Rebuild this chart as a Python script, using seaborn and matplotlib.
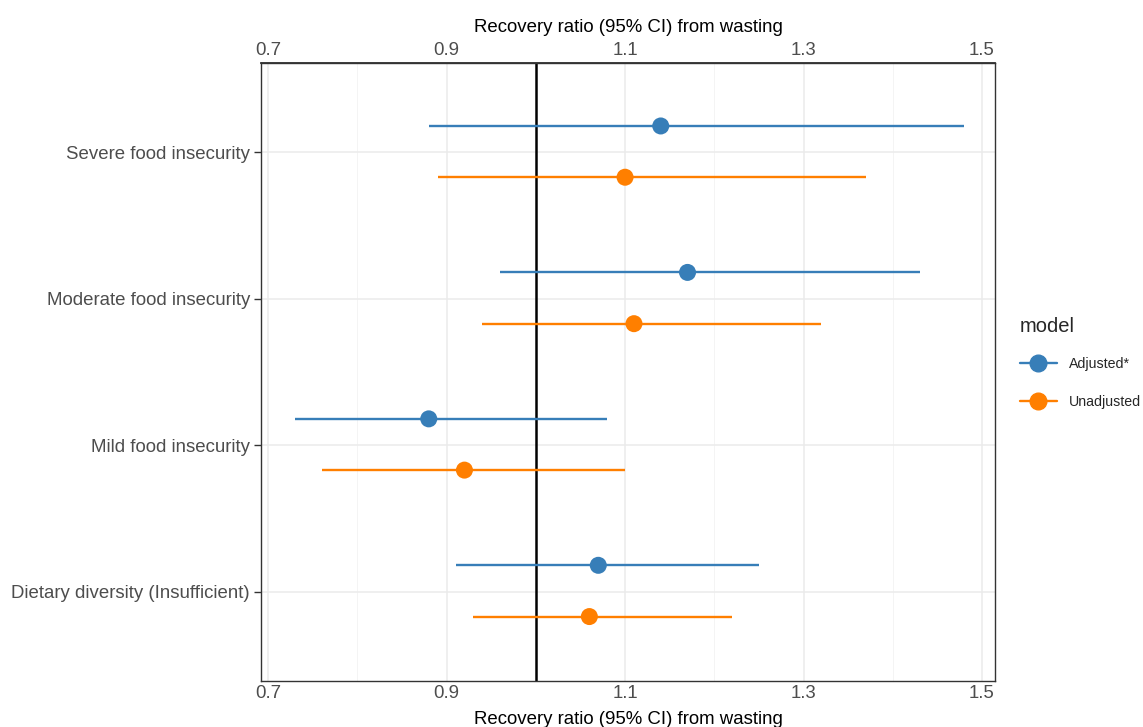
import numpy as np
import pandas as pd
import matplotlib
matplotlib.use("Agg")
import matplotlib.pyplot as plt
from matplotlib.lines import Line2D
import seaborn as sns

categories = ["Severe food insecurity", "Moderate food insecurity",
              "Mild food insecurity", "Dietary diversity (Insufficient)"]
models = ["Adjusted*", "Unadjusted"]
adj_est = [1.14, 1.17, 0.88, 1.07]
adj_lo = [0.88, 0.96, 0.73, 0.91]
adj_hi = [1.48, 1.43, 1.08, 1.25]
unadj_est = [1.10, 1.11, 0.92, 1.06]
unadj_lo = [0.89, 0.94, 0.76, 0.93]
unadj_hi = [1.37, 1.32, 1.10, 1.22]
xticks = [0.7, 0.9, 1.1, 1.3, 1.5]

sns.set_theme(style="white")
plt.rcParams["font.family"] = ["Liberation Sans", "DejaVu Sans"]

colors = {"Adjusted*": "#377EB8", "Unadjusted": "#FF7F00"}
offsets = {"Adjusted*": -0.18, "Unadjusted": 0.17}

rows = []
for i, c in enumerate(categories):
    rows.append(dict(category=c, model="Adjusted*", est=adj_est[i], lo=adj_lo[i], hi=adj_hi[i], idx=i))
    rows.append(dict(category=c, model="Unadjusted", est=unadj_est[i], lo=unadj_lo[i], hi=unadj_hi[i], idx=i))
df = pd.DataFrame(rows)
df["y"] = df["idx"] + df["model"].map(offsets)

fig = plt.figure(figsize=(11.43, 7.27), dpi=100)
ax = fig.add_axes([261/1143, 1-681/727, (995-261)/1143, (681-63)/727])

# grid
for x in xticks:
    ax.axvline(x, color="#ebebeb", lw=1.1, zorder=0)
for x in [0.8, 1.0, 1.2, 1.4]:
    ax.axvline(x, color="#f2f2f2", lw=0.6, zorder=0)
for i in range(len(categories)):
    ax.axhline(i, color="#ebebeb", lw=1.1, zorder=0)

ax.axvline(1.0, color="black", lw=1.8, zorder=1)

for m in models:
    sub = df[df["model"] == m]
    ax.hlines(sub["y"], sub["lo"], sub["hi"], color=colors[m], lw=1.7, zorder=2)

sns.scatterplot(data=df, x="est", y="y", hue="model", palette=colors, s=150,
                edgecolor="none", ax=ax, zorder=3, legend=False)

ax.set_xlim(0.692, 1.5146)
ax.set_ylim(len(categories) - 1 + 0.61, -0.61)
ax.set_xticks(xticks)
ax.set_xticklabels([f"{v:.1f}" for v in xticks])
ax.set_yticks(range(len(categories)))
ax.set_yticklabels(categories)
ax.tick_params(axis="y", left=True, length=5, width=1, color="#333333",
               labelsize=13.4, labelcolor="#4d4d4d", pad=3)
ax.tick_params(axis="x", bottom=False, length=0, labelsize=13.4, labelcolor="#4d4d4d", pad=3)
ax.set_xlabel("Recovery ratio (95% CI) from wasting", fontsize=13.4, color="black", labelpad=6)
ax.set_ylabel("")
for s in ax.spines.values():
    s.set_color("#333333")
    s.set_linewidth(1.0)

sec = ax.secondary_xaxis("top")
sec.set_xticks(xticks)
sec.set_xticklabels([f"{v:.1f}" for v in xticks])
sec.tick_params(axis="x", top=False, length=0, labelsize=13.4, labelcolor="#4d4d4d", pad=3)
sec.set_xlabel("Recovery ratio (95% CI) from wasting", fontsize=13.4, color="black", labelpad=7)

handles = [Line2D([0], [0], color=colors[m], lw=1.7, marker="o", markersize=12) for m in models]
leg = fig.legend(handles, models, title="model", loc="upper left",
                 bbox_to_anchor=(1007/1143, 1-304/727), frameon=False,
                 fontsize=10.2, title_fontsize=14.5, labelspacing=1.75, handlelength=2.6,
                 handletextpad=0.9)
leg._legend_box.align = "left"
leg._legend_box.sep = 15

fig.savefig("out.png", dpi=100)
